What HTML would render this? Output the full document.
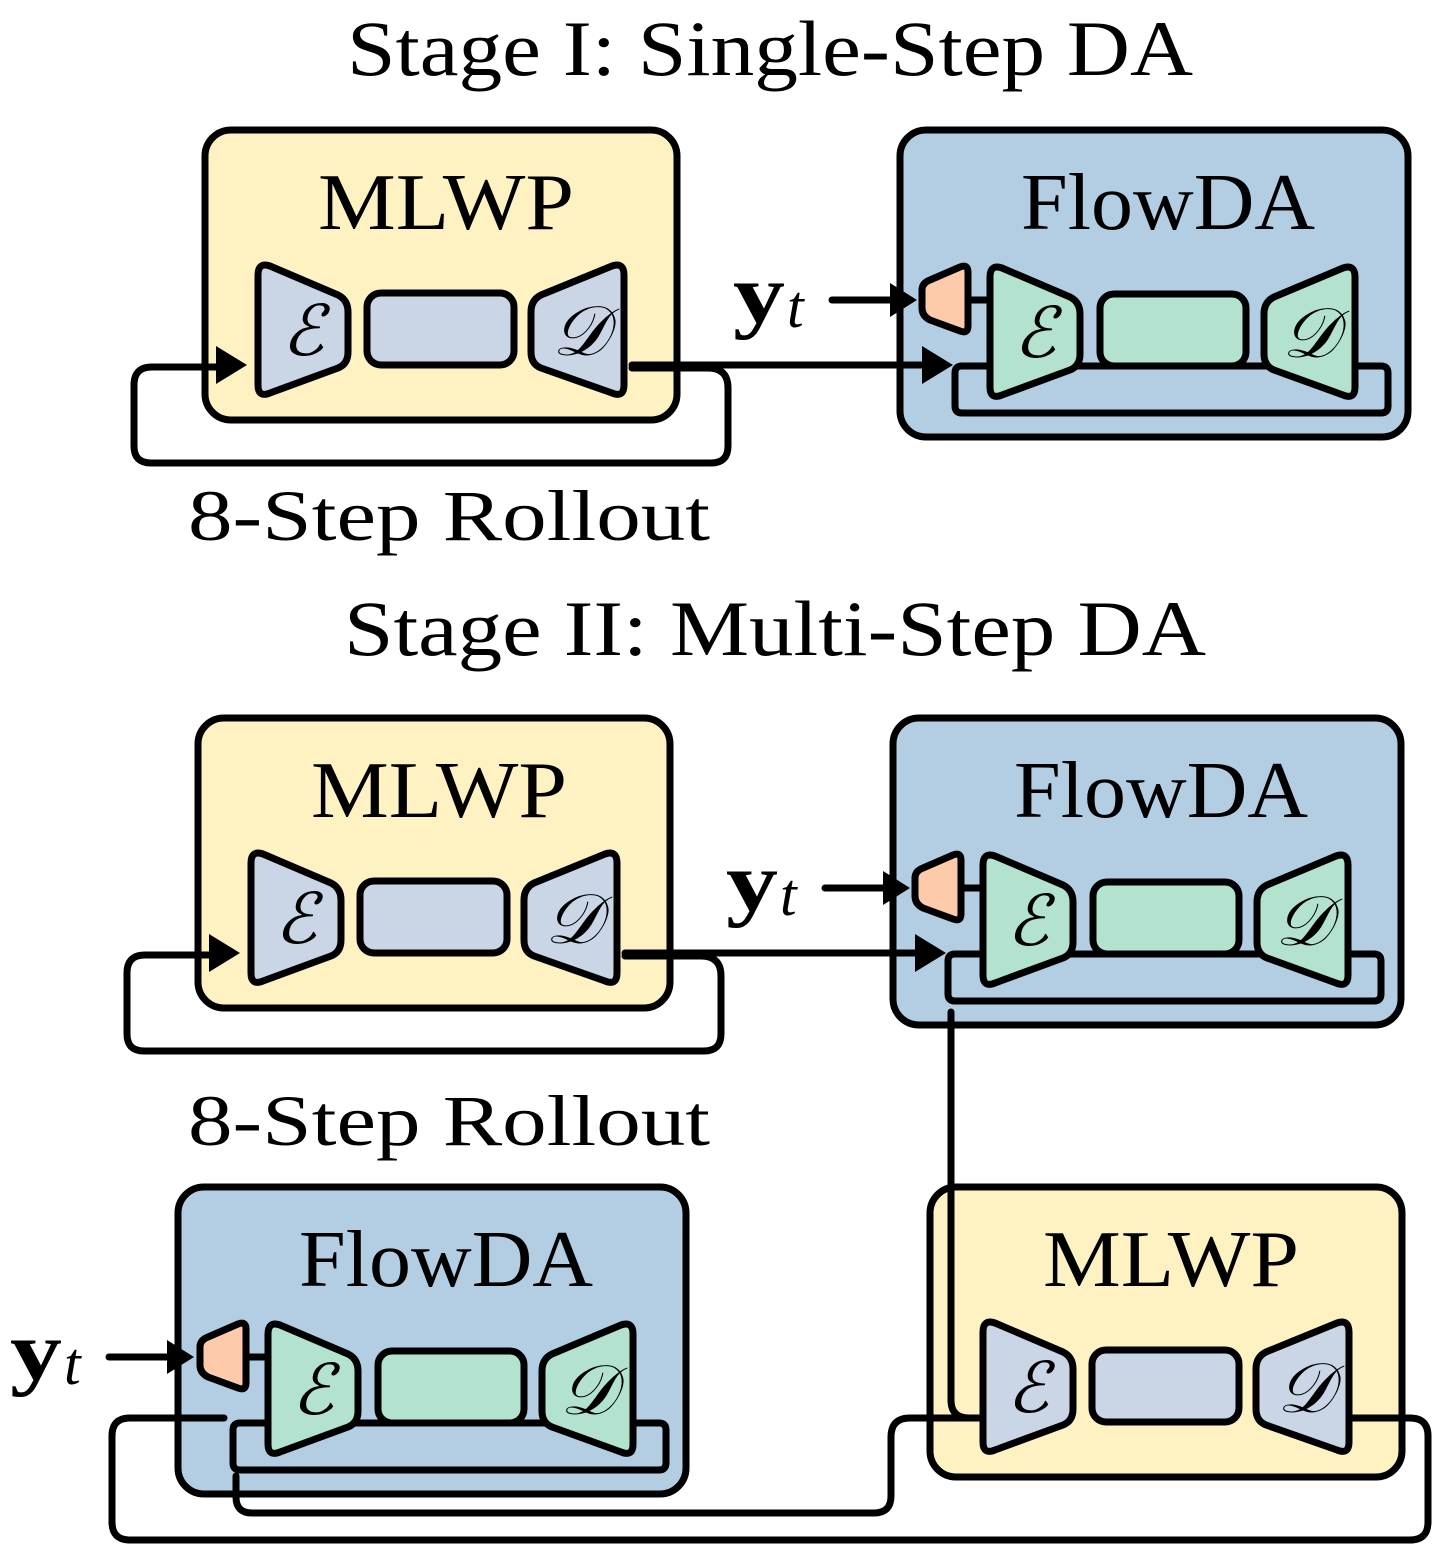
<!DOCTYPE html>
<html><head><meta charset="utf-8"><style>
html,body{margin:0;padding:0;background:#fff;}
svg{display:block;}
text{font-family:"Liberation Serif",serif;fill:#000;}
</style></head><body>
<svg width="1434" height="1547" viewBox="0 0 1434 1547" xmlns="http://www.w3.org/2000/svg">
<defs>
<g id="mlwp">
<rect x="205" y="130" width="472" height="290" rx="26" fill="#fff2c2"/>
<text x="446" y="229" font-size="80" text-anchor="middle" textLength="256" lengthAdjust="spacingAndGlyphs" stroke="none">MLWP</text>
<path d="M258 275 Q258 262 270 266 L338 295 Q348 300 348 312 L348 352 Q348 364 338 368 L270 393 Q258 398 258 385 Z" fill="#cad5e6"/>
<rect x="367" y="293" width="147" height="72" rx="14" fill="#cad5e6"/>
<path d="M624 275 Q624 262 612 266 L541 295 Q531 300 531 312 L531 352 Q531 364 541 368 L612 393 Q624 398 624 385 Z" fill="#cad5e6"/>
<text x="303" y="355" font-size="70" font-style="italic" text-anchor="middle" stroke="none">ℰ</text>
<text x="580" y="355" font-size="70" font-style="italic" text-anchor="middle" stroke="none">𝒟</text>
</g>
<g id="flow">
<rect x="900" y="130" width="508" height="307" rx="26" fill="#b3cee3"/>
<text x="1168" y="229" font-size="80" text-anchor="middle" textLength="294" lengthAdjust="spacingAndGlyphs" stroke="none">FlowDA</text>
<path d="M955 373 Q955 366 962 366 L1381 366 Q1388 366 1388 373 L1388 406 Q1388 413 1381 413 L962 413 Q955 413 955 406 Z"/>
<line x1="968" y1="300" x2="990" y2="300"/>
<path d="M922 290 Q922 283 930 280 L960 267 Q968 264 968 272 L968 326 Q968 334 960 331 L930 320 Q922 316 922 308 Z" fill="#fdcba9"/>
<path d="M990 277 Q990 264 1002 268 L1070 297 Q1080 302 1080 314 L1080 354 Q1080 366 1070 370 L1002 395 Q990 400 990 387 Z" fill="#b3e3cf"/>
<rect x="1100" y="294" width="146" height="72" rx="14" fill="#b3e3cf"/>
<path d="M1355 277 Q1355 264 1343 268 L1274 297 Q1264 302 1264 314 L1264 354 Q1264 366 1274 370 L1343 395 Q1355 400 1355 387 Z" fill="#b3e3cf"/>
<text x="1035" y="357" font-size="70" font-style="italic" text-anchor="middle" stroke="none">ℰ</text>
<text x="1310" y="357" font-size="70" font-style="italic" text-anchor="middle" stroke="none">𝒟</text>
</g>
<g id="yt">
<text x="733" y="322" font-size="84" font-weight="bold" textLength="52" lengthAdjust="spacingAndGlyphs" stroke="none">y</text>
<text x="787" y="327" font-size="60" font-style="italic" stroke="none">t</text>
<line x1="832" y1="300" x2="895" y2="300"/>
<polygon points="917,300 890,283 890,317" fill="#000" stroke="none"/>
</g>
<g id="stage">
<use href="#mlwp"/>
<use href="#flow"/>
<path d="M632 368 L708 368 Q728 368 728 388 L728 446 Q728 463 711 463 L151 463 Q134 463 134 446 L134 385 Q134 367 152 367 L222 367"/>
<polygon points="247,365 216,346 216,384" fill="#000" stroke="none"/>
<path d="M632 365 L928 365"/>
<polygon points="953,365 922,346 922,384" fill="#000" stroke="none"/>
<use href="#yt"/>
</g>
</defs>
<g stroke="#000" stroke-width="7" stroke-linejoin="round" stroke-linecap="round" fill="none">

<text x="770" y="75" font-size="78" text-anchor="middle" textLength="846" lengthAdjust="spacingAndGlyphs" stroke="none">Stage I: Single-Step DA</text>
<use href="#stage"/>
<text x="449" y="540" font-size="72" text-anchor="middle" textLength="522" lengthAdjust="spacingAndGlyphs" stroke="none">8-Step Rollout</text>

<text x="775" y="655" font-size="78" text-anchor="middle" textLength="862" lengthAdjust="spacingAndGlyphs" stroke="none">Stage II: Multi-Step DA</text>
<g transform="translate(-7,588)">
<use href="#stage"/>
<text x="456" y="557" font-size="72" text-anchor="middle" textLength="522" lengthAdjust="spacingAndGlyphs" stroke="none">8-Step Rollout</text>
</g>

<g transform="translate(725,1057)"><use href="#mlwp"/></g>
<g transform="translate(-722,1057)"><use href="#flow"/></g>
<g transform="translate(-723,1057)">
<text x="733" y="322" font-size="84" font-weight="bold" textLength="52" lengthAdjust="spacingAndGlyphs" stroke="none">y</text>
<text x="787" y="327" font-size="60" font-style="italic" stroke="none">t</text>
<line x1="832" y1="300" x2="895" y2="300"/>
<polygon points="917,300 890,283 890,317" fill="#000" stroke="none"/>
</g>

<path d="M951 1012 L951 1400 Q951 1418 969 1418 L983 1418"/>
<path d="M983 1418 L910 1418 Q891 1418 891 1437 L891 1496 Q891 1513 874 1513 L252 1513 Q236 1513 236 1497 L236 1476"/>
<path d="M1352 1418 L1410 1418 Q1428 1418 1428 1436 L1428 1522 Q1428 1540 1410 1540 L130 1540 Q112 1540 112 1522 L112 1436 Q112 1418 130 1418 L224 1418"/>
</g>
</svg>
</body></html>
